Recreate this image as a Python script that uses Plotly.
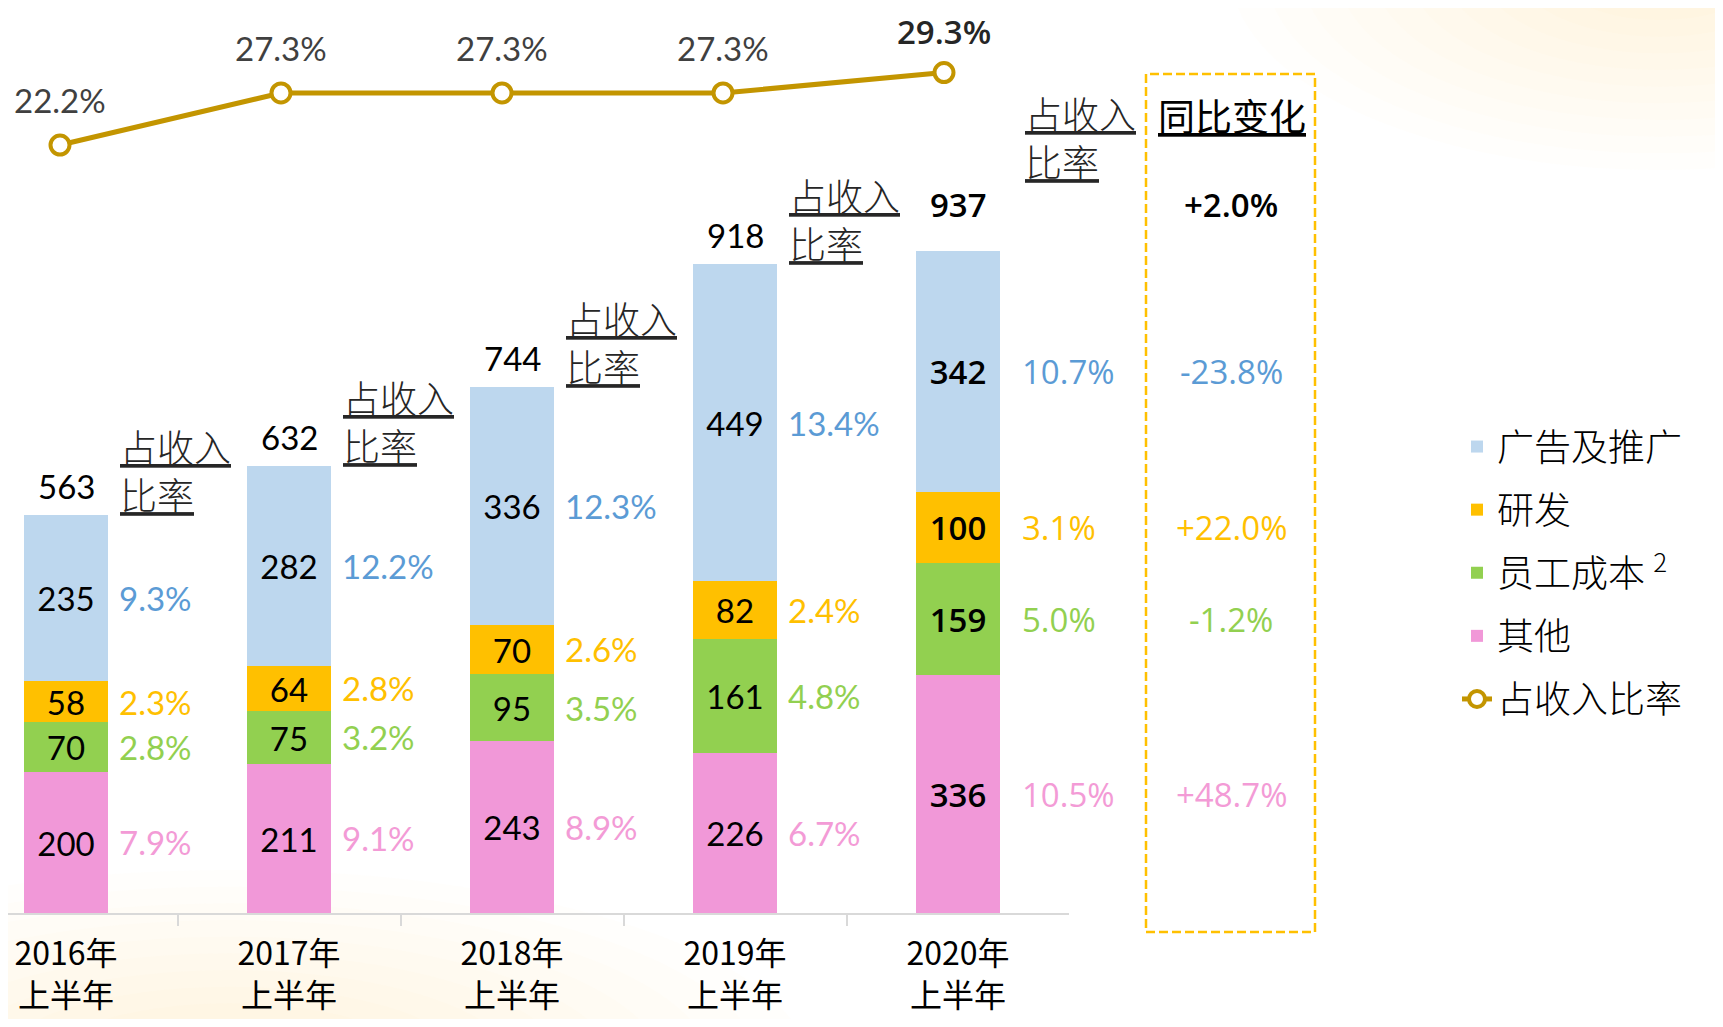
import plotly.graph_objects as go

# ---------------- data ----------------
categories = ["2016年<br>上半年", "2017年<br>上半年", "2018年<br>上半年", "2019年<br>上半年", "2020年<br>上半年"]
ads = [235, 282, 336, 449, 342]
rnd = [58, 64, 70, 82, 100]
staff = [70, 75, 95, 161, 159]
other = [200, 211, 243, 226, 336]
totals = [563, 632, 744, 918, 937]
ratio = [22.2, 27.3, 27.3, 27.3, 29.3]
ads_pct = [9.3, 12.2, 12.3, 13.4, 10.7]
rnd_pct = [2.3, 2.8, 2.6, 2.4, 3.1]
staff_pct = [2.8, 3.2, 3.5, 4.8, 5.0]
other_pct = [7.9, 9.1, 8.9, 6.7, 10.5]
yoy_total = "+2.0%"
yoy_ads, yoy_rnd, yoy_staff, yoy_other = "-23.8%", "+22.0%", "-1.2%", "+48.7%"
name_ads, name_rnd, name_staff, name_other = "广告及推广", "研发", "员工成本 <sup>2</sup>", "其他"
name_ratio = "占收入比率"
header_ratio = "<u>占收入</u><br><u>比率</u>"
header_yoy = "<u>同比变化</u>"

# ---------------- layout constants (page px, body margin 8 compensated) ----------------
OFF = 8
W, H = 1723 - 2 * OFF, 1027 - 2 * OFF
PLOT_W = 1069 - OFF
PLOT_H = 913 - OFF
CAT0, STEP = 66 - OFF, 223
BAR_W = 0.377
LINE0, LINE_STEP = 60 - OFF, 221
Y_SCALE = 662.5 / 937
Y2_PX = 10.21
Y2_ZERO = 371.7 - OFF
Y2_LO = (Y2_ZERO - PLOT_H) / Y2_PX
Y2_HI = Y2_LO + PLOT_H / Y2_PX


def px(P):
    return (P - OFF) / PLOT_W


def py(P):
    return (PLOT_H - (P - OFF)) / PLOT_H


C_ADS, C_RND, C_STAFF, C_OTHER = "#BDD7EE", "#FFC000", "#92D050", "#F198D8"
T_ADS, T_RND, T_STAFF, T_OTHER = "#5B9BD5", "#FFC000", "#92D050", "#F39BD6"
C_LINE = "#C39500"
NUM_FONT = "Lato, 'Open Sans', sans-serif"
NUM_FONT_2020 = "'Open Sans', Lato, sans-serif"
CJK_FONT = "'Noto Sans CJK SC', sans-serif"
NS = 33
CS = 37

fig = go.Figure()

series = [
    (name_other, other, other_pct, C_OTHER, T_OTHER, yoy_other, 4),
    (name_staff, staff, staff_pct, C_STAFF, T_STAFF, yoy_staff, 3),
    (name_rnd, rnd, rnd_pct, C_RND, T_RND, yoy_rnd, 2),
    (name_ads, ads, ads_pct, C_ADS, T_ADS, yoy_ads, 1),
]

fams = [NUM_FONT] * 4 + [NUM_FONT_2020]
wts = [400] * 4 + [600]
for name, vals, pcts, col, tcol, yy, rank in series:
    fig.add_trace(go.Bar(
        x=categories, y=vals, name=name, width=BAR_W,
        marker=dict(color=col, line=dict(width=0)),
        text=[str(v) for v in vals], textposition="inside", insidetextanchor="middle",
        textangle=0, constraintext="none",
        insidetextfont=dict(family=fams, size=NS, color="#000000", weight=wts),
        legendgroup=name, legendrank=rank,
    ))

fig.add_trace(go.Scatter(
    x=categories, y=ratio, name=name_ratio, xaxis="x2", yaxis="y2",
    mode="lines+markers",
    line=dict(color=C_LINE, width=5),
    marker=dict(symbol="circle", size=19, color="#FFFFFF", line=dict(color=C_LINE, width=4)),
    legendgroup=name_ratio, legendrank=5,
))

ann = []
base = [0] * 5
for name, vals, pcts, col, tcol, yy, rank in series:
    for i in range(5):
        mid = base[i] + vals[i] / 2
        ann.append(dict(
            x=i + BAR_W / 2, y=mid, xref="x", yref="y", xanchor="left", yanchor="middle",
            xshift=9 if i < 4 else 20, showarrow=False, text=f"{pcts[i]:.1f}%",
            font=dict(family=fams[i], size=NS, color=tcol),
        ))
    ann.append(dict(
        x=px(1231), y=base[4] + vals[4] / 2, xref="paper", yref="y",
        xanchor="center", yanchor="middle", showarrow=False, text=yy,
        font=dict(family=NUM_FONT_2020, size=NS, color=tcol),
    ))
    base = [b + v for b, v in zip(base, vals)]

for i in range(5):
    ann.append(dict(
        x=i, y=totals[i], xref="x", yref="y", xanchor="center", yanchor="bottom",
        yshift=7 if i < 4 else 22, showarrow=False, text=str(totals[i]),
        font=dict(family=fams[i], size=NS, color="#000000", weight=wts[i]),
    ))
ann.append(dict(
    x=px(1231), y=totals[4], xref="paper", yref="y", xanchor="center", yanchor="bottom",
    yshift=22, showarrow=False, text=yoy_total,
    font=dict(family=NUM_FONT_2020, size=NS, color="#000000", weight=600),
))

for i in range(4):
    ann.append(dict(
        x=i + BAR_W / 2, y=totals[i], xref="x", yref="y", xanchor="left", yanchor="bottom",
        xshift=10, yshift=-8, showarrow=False, text=header_ratio, align="left",
        font=dict(family=CJK_FONT, size=CS, color="#262626", weight=300),
    ))
ann.append(dict(
    x=px(1023), y=py(137.5), xref="paper", yref="paper",
    xanchor="left", yanchor="middle", showarrow=False, text=header_ratio, align="left",
    font=dict(family=CJK_FONT, size=CS, color="#262626", weight=300),
))
ann.append(dict(
    x=px(1232), y=py(115), xref="paper", yref="paper",
    xanchor="center", yanchor="middle", showarrow=False, text=header_yoy,
    font=dict(family=CJK_FONT, size=CS, color="#000000"),
))

for i in range(5):
    ann.append(dict(
        x=categories[i], y=ratio[i], xref="x2", yref="y2", xanchor="center", yanchor="middle",
        yshift=45 if i < 4 else 41, showarrow=False, text=f"{ratio[i]:.1f}%",
        font=dict(family=fams[i], size=NS, color="#404040" if i < 4 else "#262626", weight=wts[i]),
    ))

shapes = []
# faint warm background glows (stacked translucent ellipses approximate a soft radial gradient)
N_GLOW = 12
for (cx, cy, rx, ry) in [(1660, -30, 430, 200), (230, 1070, 580, 200)]:
    for k in range(N_GLOW):
        f = 1 - k / N_GLOW
        shapes.append(dict(
            type="circle", xref="paper", yref="paper", layer="below",
            x0=px(cx - rx * f), x1=px(cx + rx * f), y0=py(cy + ry * f), y1=py(cy - ry * f),
            fillcolor="rgba(255,226,140,0.028)", line=dict(width=0),
        ))
shapes.append(dict(
    type="rect", xref="paper", yref="paper",
    x0=px(1146), x1=px(1315), y0=py(932), y1=py(74),
    line=dict(color="#FFC000", width=2.5, dash="9px,4px"), fillcolor="rgba(0,0,0,0)",
))

fig.update_layout(
    width=W, height=H,
    margin=dict(l=0, r=W - PLOT_W, t=0, b=H - PLOT_H, autoexpand=False),
    paper_bgcolor="#FFFFFF", plot_bgcolor="rgba(0,0,0,0)",
    barmode="stack", bargap=0,
    showlegend=True,
    legend=dict(
        x=1449 / PLOT_W, y=py(573), xanchor="left", yanchor="middle",
        font=dict(family=CJK_FONT, size=CS, color="#000000", weight=300),
        tracegroupgap=12, bgcolor="rgba(0,0,0,0)", itemwidth=30,
    ),
    xaxis=dict(
        type="category", range=[(0 - CAT0) / STEP, (PLOT_W - CAT0) / STEP],
        showline=True, linecolor="#D9D9D9", linewidth=2,
        ticks="outside", tickson="boundaries", ticklen=11, tickcolor="#D9D9D9", tickwidth=2,
        showgrid=False, zeroline=False, ticklabelstandoff=12,
        tickfont=dict(family=CJK_FONT, size=32, color="#000000"),
    ),
    yaxis=dict(range=[0, PLOT_H / Y_SCALE], visible=False, showgrid=False, zeroline=False),
    xaxis2=dict(
        type="category", overlaying="x", anchor="y2", visible=False,
        range=[(0 - LINE0) / LINE_STEP, (PLOT_W - LINE0) / LINE_STEP],
    ),
    yaxis2=dict(overlaying="y", anchor="x2", range=[Y2_LO, Y2_HI], visible=False),
    annotations=ann, shapes=shapes,
)

fig.write_html("out.html")
